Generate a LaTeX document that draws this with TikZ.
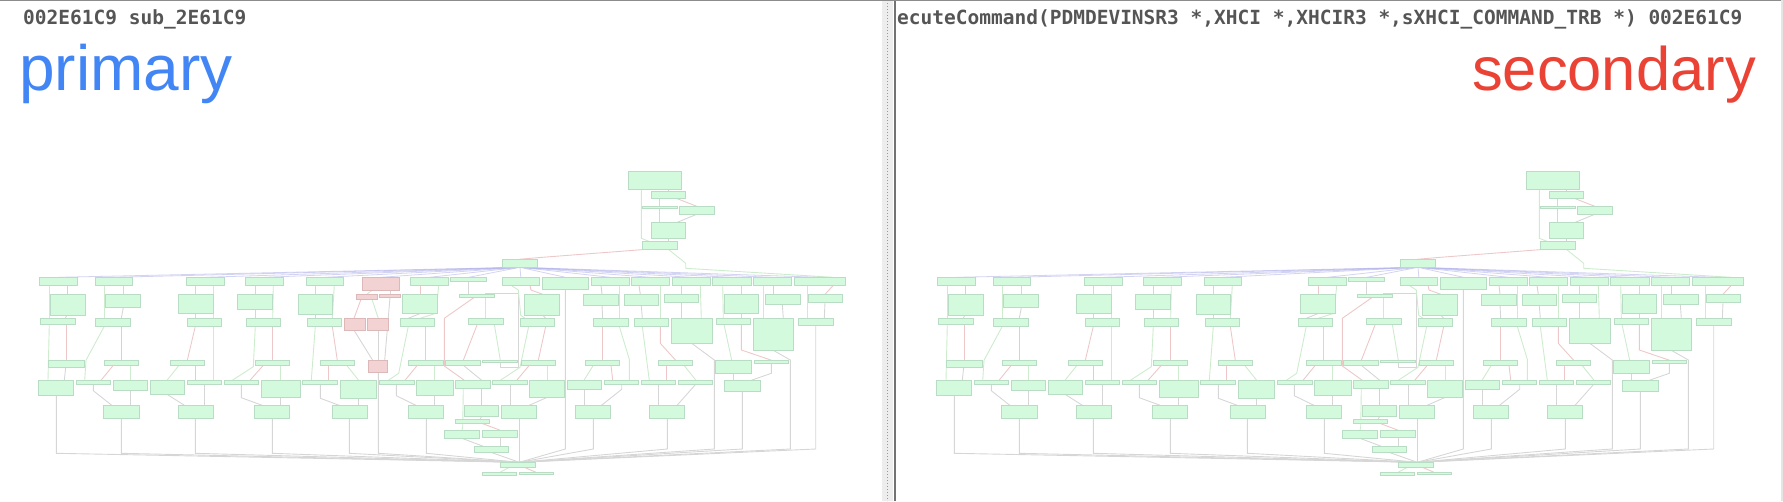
\documentclass[tikz,border=0pt]{standalone}
\usepackage{fontspec}
\newfontfamily\monof{DejaVu Sans Mono}
\newfontfamily\labf{Liberation Sans}
\definecolor{boxfill}{RGB}{212,250,222}
\definecolor{boxline}{RGB}{184,220,196}
\definecolor{redfill}{RGB}{242,210,210}
\definecolor{redline}{RGB}{220,184,184}
\definecolor{gedgec}{RGB}{205,236,205}
\definecolor{redgec}{RGB}{238,200,200}
\definecolor{kedgec}{RGB}{214,214,214}
\definecolor{bedgec}{RGB}{175,175,232}
\definecolor{gblue}{RGB}{66,133,244}
\definecolor{gred}{RGB}{234,67,53}
\definecolor{hdr}{RGB}{85,85,85}
\pgfdeclarelayer{bg}
\pgfsetlayers{bg,main}
\newif\ifprim
\newcommand\pfx{L}
\newcommand\bx[6][gbox]{\pgfmathsetmacro\bw{#5-#3}\pgfmathsetmacro\bh{#6-#4}\node[#1,minimum width=\bw pt,minimum height=\bh pt,anchor=north west] (\pfx#2) at (#3,#4) {};}
\newcommand\E[5][kedge]{\draw[#1] (\pfx#2.south -| #3,0) -- (\pfx#4.north -| #5,0);}
\newcommand\EP[6][kedge]{\draw[#1] (\pfx#2.south -| #3,0) -- #4 -- (\pfx#5.north -| #6,0);}
\tikzset{
  gbox/.style={draw=boxline, fill=boxfill, line width=0.9pt, inner sep=0pt, outer sep=0pt},
  rbox/.style={draw=redline, fill=redfill, line width=0.9pt, inner sep=0pt, outer sep=0pt},
  kedge/.style={draw=kedgec, line width=0.9pt},
  gedge/.style={draw=gedgec, line width=0.9pt},
  redge/.style={draw=redgec, line width=0.9pt},
  bedge/.style={draw=bedgec, line width=0.8pt, opacity=0.55},
}
\newcommand\drawgraph{%
% top
\bx{T1}{628.3}{171.7}{681.7}{189.3}
\bx{T2}{651.3}{191.3}{685.7}{198.7}
\bx{T3}{642}{206.3}{677.3}{208.7}
\bx{T4}{679.3}{206.3}{714.3}{214.3}
\bx{T5}{651.3}{222.3}{685.7}{238.3}
\bx{T6}{642.3}{241.7}{677.3}{249.3}
\bx{D}{502.3}{259.3}{537.7}{267.3}
% row A
\bx{A1}{39.3}{277.3}{77.7}{285.3}
\bx{A2}{95.3}{277.3}{132.7}{285.3}
\bx{A3}{186.3}{277.3}{224.7}{285.3}
\bx{A4}{245.3}{277.3}{283.7}{285.3}
\bx{A5}{306.3}{277.3}{343.7}{285.3}
\bx{A7}{410.3}{277.3}{448.7}{285.3}
\bx{A8}{450.7}{277.3}{486.7}{281.3}
\bx{A9}{502.3}{277.3}{539.3}{285.3}
\bx{A10}{542.3}{277.3}{588.7}{289.7}
\bx{A11}{591.3}{277.3}{629.3}{285.3}
\bx{A12}{631.3}{277.3}{669.3}{285.3}
\bx{A13}{672.3}{277.3}{710.3}{285.3}
\bx{A14}{712.7}{277.3}{751.3}{285.3}
\bx{A15}{753.3}{277.3}{791.3}{285.3}
\bx{A16}{794.3}{277.3}{845.7}{285.3}
% row B
\bx{B1}{50.3}{294.3}{85.3}{315.3}
\bx{B2}{105.3}{294.3}{140.3}{307.7}
\bx{B3}{178.3}{294.3}{213.3}{313.3}
\bx{B4}{237.3}{294.3}{272.7}{309.3}
\bx{B5}{298.3}{294.3}{332.3}{314.3}
\bx{B8}{402.3}{294.3}{437.7}{313.3}
\bx{B9}{459.3}{294.3}{494.3}{297.3}
\bx{B10}{524.3}{294.3}{559.7}{315.3}
\bx{B11}{583.3}{294.3}{618.3}{305.3}
\bx{B12}{624.3}{294.3}{658.7}{305.3}
\bx{B13}{664.3}{294.3}{698.7}{302.3}
\bx{B14}{724.3}{294.3}{758.7}{313.3}
\bx{B15}{765.3}{294.3}{800.3}{304.3}
\bx{B16}{808.3}{294.3}{842.7}{302.3}
% row C
\bx{C1}{40.3}{318.3}{75.3}{324.3}
\bx{C2}{95.7}{318.3}{130.3}{326.3}
\bx{C3}{187.3}{318.3}{221.3}{326.3}
\bx{C4}{246.3}{318.3}{280.7}{326.3}
\bx{C5}{307.3}{318.3}{341.7}{326.3}
\bx{C8}{400.3}{318.3}{434.7}{326.3}
\bx{C9}{468.3}{318.3}{503.3}{324.3}
\bx{C10}{520.3}{318.3}{554.7}{326.3}
\bx{C11}{593.3}{318.3}{628.3}{326.3}
\bx{C12}{634.3}{318.3}{668.7}{326.3}
\bx{C13}{671.3}{318.3}{712.7}{343.3}
\bx{C14}{716.3}{318.3}{750.7}{324.3}
\bx{C15}{753.3}{318.3}{793.3}{350.3}
\bx{C16}{798.3}{318.3}{833.3}{325.7}
% row D
\bx{D1}{48.3}{360.3}{84.7}{367.3}
\bx{D2}{104.3}{360.3}{138.3}{365.3}
\bx{D3}{170.3}{360.3}{204.3}{365.3}
\bx{D4}{255.3}{360.3}{289.3}{365.3}
\bx{D5}{320.3}{360.3}{354.3}{365.3}
\bx{D7}{408.3}{360.3}{443.3}{365.3}
\bx{D8}{445.7}{360.3}{480.3}{365.3}
\bx{D9}{482.3}{360.3}{517.3}{362.7}
\bx{D10}{521.3}{360.3}{555.3}{365.3}
\bx{D11}{585.3}{360.3}{619.7}{365.3}
\bx{D12}{658.3}{360.3}{692.7}{365.3}
\bx{D13}{715.3}{360.3}{751.3}{373.3}
\bx{D14}{754.3}{360.3}{788.7}{363.3}
% row E
\bx{E1}{38.3}{380.3}{73.3}{395.7}
\bx{E2}{76.3}{380.3}{110.3}{384.3}
\bx{E3}{113.3}{380.3}{147.3}{390.7}
\bx{E4}{150.3}{380.3}{184.7}{394.3}
\bx{E5}{187.3}{380.3}{221.3}{384.3}
\bx{E6}{224.3}{380.3}{258.3}{384.3}
\bx{E7}{261.3}{380.3}{300.3}{397.3}
\bx{E8}{302.3}{380.3}{337.3}{384.3}
\bx{E9}{340.3}{380.3}{376.7}{398.3}
\bx{E10}{379.3}{380.3}{414.3}{384.3}
\bx{E11}{416.3}{380.3}{453.3}{395.3}
\bx{E12}{455.3}{380.3}{490.3}{388.3}
\bx{E13}{492.3}{380.3}{527.3}{384.3}
\bx{E14}{529.3}{380.3}{564.3}{397.3}
\bx{E15}{567.3}{380.3}{601.3}{389.3}
\bx{E16}{604.3}{380.3}{638.3}{384.3}
\bx{E17}{641.3}{380.3}{675.3}{384.3}
\bx{E18}{678.3}{380.3}{712.3}{384.3}
\bx{E19}{724.3}{380.3}{760.3}{391.3}
% row F
\bx{F1}{103.3}{405.7}{139.3}{418.3}
\bx{F2}{178.3}{405.7}{213.3}{418.3}
\bx{F3}{254.3}{405.7}{289.3}{418.3}
\bx{F4}{332.3}{405.7}{367.3}{418.3}
\bx{F5}{408.3}{405.7}{443.3}{418.3}
\bx{F6}{464.3}{405.7}{498.3}{416.3}
\bx{F7}{501.3}{405.7}{536.3}{418.3}
\bx{F8}{575.3}{405.7}{610.3}{418.3}
\bx{F9}{649.3}{405.7}{684.3}{418.3}
% lower
\bx{G1}{455.3}{419.3}{489.3}{423.3}
\bx{G2}{444.3}{430.3}{479.3}{438.3}
\bx{G3}{482.3}{430.3}{517.3}{437.3}
\bx{G4}{474.3}{446.3}{508.3}{452.3}
\bx{X1}{500.3}{462.3}{535.3}{467.3}
\bx{X2}{482.3}{472.3}{516.7}{475}
\bx{X3}{519.3}{472.3}{553.7}{474.3}
\ifprim
\bx[rbox]{A6}{362.3}{277.3}{399.7}{290.3}
\bx[rbox]{B6}{356.3}{294.3}{377.7}{299.3}
\bx[rbox]{B7}{379.3}{294.3}{400.3}{297.3}
\bx[rbox]{C6}{344.3}{318.3}{365.7}{330.7}
\bx[rbox]{C7}{367.3}{318.3}{388.7}{330.7}
\bx[rbox]{D6}{368.3}{360.3}{387.7}{372.3}
\fi
\begin{pgfonlayer}{bg}
% top
\E{T1}{668.3}{T2}{668.3}
\EP[gedge]{T1}{641.3}{(641.3,238.3)}{T6}{650}
\E{T2}{659.3}{T3}{659.3}
\E[redge]{T2}{677.3}{T4}{696.7}
\E{T3}{659.3}{T5}{659.3}
\E{T4}{696.7}{T5}{677.3}
\E{T5}{668.3}{T6}{668.3}
\EP[redge]{T6}{646.7}{(540,257.5)}{D}{519}
\EP[gedge]{T6}{668.3}{(685.7,263.3) -- (685.7,268.3)}{A16}{833.3}
\foreach \a in {A1,A2,A3,A4,A5,A7,A8,A9,A10,A11,A12,A13,A14,A15,A16}{\draw[bedge] (\pfx D.south) -- (\pfx\a.north);}
% col 1
\E[redge]{A1}{67.3}{B1}{67.3}
\E[gedge]{A1}{49.3}{C1}{49.3}
\E{B1}{66.7}{C1}{65.3}
\E[redge]{C1}{66.3}{D1}{66.3}
\E[gedge]{C1}{49.3}{E1}{48}
\E{D1}{65.7}{E1}{64.3}
% col 2
\E[gedge]{A2}{104.7}{C2}{104.7}
\E{A2}{123.3}{B2}{123.3}
\E{B2}{123.3}{C2}{121.3}
\EP[gedge]{C2}{104.3}{(86,360.3)}{E2}{84.7}
\E[redge]{C2}{121.3}{D2}{121.3}
\E[redge]{D2}{113.3}{E2}{101}
\E[gedge]{D2}{130.3}{E3}{130.3}
\EP{E2}{93.3}{(93.3,390.7)}{F1}{112.3}
\E{E3}{130.3}{F1}{130.3}
% col 3
\E{A3}{195.3}{B3}{195.3}
\E[gedge]{A3}{213.7}{C3}{213.7}
\E{B3}{195.3}{C3}{195.3}
\E[redge]{C3}{195.3}{D3}{187.3}
\E[gedge]{C3}{213.7}{E5}{213.7}
\E[gedge]{D3}{179}{E4}{167}
\E[redge]{D3}{195.3}{E5}{195.3}
\E{E4}{167}{F2}{185}
\E{E5}{204.3}{F2}{204.3}
% col 4
\E{A4}{255.3}{B4}{255.3}
\E[gedge]{A4}{273.3}{C4}{272.7}
\E{B4}{255.3}{C4}{255.3}
\EP[gedge]{C4}{255.3}{(253.3,366.7)}{E6}{232.3}
\E[redge]{C4}{272.7}{D4}{272.7}
\E[redge]{D4}{263.3}{E6}{250}
\E[gedge]{D4}{280.7}{E7}{280.7}
\EP{E6}{241.3}{(241.3,397.7)}{F3}{263.3}
\E{E7}{280.7}{F3}{280.7}
% col 5
\E{A5}{315.3}{B5}{315.3}
\E[gedge]{A5}{334.3}{C5}{332.3}
\E{B5}{315.3}{C5}{315.3}
\E[gedge]{C5}{315.3}{E8}{311.3}
\E[redge]{C5}{332.3}{D5}{337.3}
\E[redge]{D5}{328.7}{E8}{328.7}
\E[gedge]{D5}{346.7}{E9}{358.7}
\EP{E8}{320.3}{(320.3,398.3)}{F4}{340.3}
\E{E9}{358.3}{F4}{358.3}
% col 7
\E[redge]{A7}{420.3}{B8}{420.3}
\EP[gedge]{A7}{438.7}{(436,313.3)}{C8}{420}
\E{B8}{420.7}{C8}{408.3}
\EP[gedge]{C8}{408.3}{(398.7,373.3)}{E10}{388.3}
\E{C8}{425.7}{D7}{425.7}
\E[redge]{D7}{417.3}{E10}{405}
\E[gedge]{D7}{434.7}{E11}{434.7}
\EP{E10}{396.3}{(396.3,395.7)}{F5}{416.7}
\E{E11}{434.7}{F5}{434.7}
% col 8
\E{A8}{468.3}{B9}{468.3}
\E[gedge]{B9}{485.3}{C9}{485.3}
\draw[kedge] (\pfx D9.south -| 500.3,0) -- (500.3,367.3) -- (518.3,367.3) -- (518.3,293.3) -- (485.3,293.3) -- (\pfx B9.north -| 485.3,0);
\EP[redge]{B9}{474.3}{(444.3,318.3) -- (444.3,366)}{E12}{464.3}
\E[redge]{C9}{477.3}{D8}{463.3}
\E[gedge]{C9}{494.3}{D9}{500.3}
\E{D8}{463.3}{E12}{481.7}
\E[redge]{E12}{481.7}{F6}{481.7}
\EP[gedge]{E12}{463.3}{(462.7,426.7)}{G2}{462}
\E{F6}{481.7}{G1}{480}
\E[redge]{G1}{481.7}{G3}{500.3}
\E{G2}{462}{G4}{483.3}
\E{G3}{500.3}{G4}{500.3}
\E{G4}{491}{X1}{519.3}
% col 9
\EP[redge]{A9}{530}{(531,290)}{B10}{542.7}
\EP[gedge]{A9}{511}{(518.3,290) -- (520.7,315.3)}{C10}{525}
\E{B10}{543}{C10}{545.7}
\E[redge]{C10}{545.7}{D10}{538.3}
\EP[gedge]{C10}{528.7}{(520,367.3)}{E13}{500.3}
\E[redge]{D10}{529.3}{E13}{516.7}
\E[gedge]{D10}{547.3}{E14}{547.3}
\E{E13}{510.3}{F7}{510.3}
\E{E14}{547.3}{F7}{528.3}
\E{F7}{519.3}{X1}{519.3}
% col 11
\E[redge]{A11}{601}{B11}{602}
\E[gedge]{A11}{619.3}{C11}{619.3}
\E{B11}{602}{C11}{602.7}
\E[redge]{C11}{602.3}{D11}{602.3}
\EP[gedge]{C11}{619.3}{(629.3,359.3)}{E16}{629.3}
\E[gedge]{D11}{593.3}{E15}{584}
\E[redge]{D11}{611}{E16}{612.7}
\E{E15}{584.3}{F8}{584.3}
\EP{E16}{621.7}{(621.7,389.3)}{F8}{601}
% col 12
\E[redge]{A12}{639}{B12}{640.3}
\E[gedge]{A12}{660}{C12}{660}
\E{B12}{641.3}{C12}{642.3}
\E[gedge]{C12}{642.3}{E17}{649.3}
\EP[redge]{C12}{660.3}{(660.3,343.3)}{D12}{675.7}
\E[redge]{D12}{666.3}{E17}{666.3}
\E[gedge]{D12}{684}{E18}{696}
\E{E17}{658.7}{F9}{658.7}
\E{E18}{695.7}{F9}{676.7}
% col 13
\E{A13}{681.3}{B13}{681.3}
\E[gedge]{A13}{700.3}{C13}{701.3}
\E{B13}{681.3}{C13}{681.3}
% col 14
\E{A14}{741.3}{B14}{741.3}
\E[gedge]{A14}{722.7}{C14}{723.3}
\E{B14}{741.3}{C14}{741.3}
\E[gedge]{C14}{724}{D13}{731.7}
\EP[redge]{C14}{741.3}{(741.3,350)}{D14}{771.7}
\E{D13}{733.3}{E19}{733.3}
\EP{D14}{771.3}{(771.3,373.3)}{E19}{751.3}
% col 15, 16
\E[redge]{A15}{773.3}{B15}{773.3}
\E[gedge]{A15}{763.3}{C15}{763.3}
\E{B15}{782.3}{C15}{783.3}
\E[redge]{A16}{833.3}{B16}{825}
\E[gedge]{A16}{807.7}{C16}{807.7}
\E{B16}{825}{C16}{824.3}
% exit
\E[gedge]{X1}{509.3}{X2}{500}
\E[redge]{X1}{524.3}{X3}{536}
% bus
\foreach \n/\x in {E1/56.3,F1/121.3,F2/195.3,F3/272.3,F4/349.3,F5/426.3}{\draw[kedge] (\pfx\n.south -| \x,0) -- (\x,453.3) -- (\pfx X1.north -| 519.3,0);}
\foreach \n/\x in {A10/565.3,F8/593.3,F9/667.3,E19/742.3,C16/815.7}{\draw[kedge] (\pfx\n.south -| \x,0) -- (\x,449) -- (\pfx X1.north -| 519.3,0);}
\draw[kedge] (\pfx C13.south -| 691.7,0) -- (714.3,360) -- (714.3,449) -- (\pfx X1.north -| 519.3,0);
\draw[kedge] (\pfx C15.south -| 773.3,0) -- (790.3,360) -- (790.3,449) -- (\pfx X1.north -| 519.3,0);
\ifprim
\draw[bedge] (\pfx D.south) -- (\pfx A6.north);
\E[gedge]{A6}{372}{B6}{366.7}
\E{A6}{390}{B7}{390}
\E[redge]{B6}{361}{C6}{354}
\E[gedge]{B6}{372}{C7}{378.3}
\E{B7}{390}{D6}{384.7}
\E{C6}{354.3}{D6}{372.7}
\E{C7}{378.3}{D6}{378.3}
\draw[kedge] (\pfx D6.south -| 378.3,0) -- (378.3,453.3) -- (\pfx X1.north -| 519.3,0);
\fi
\end{pgfonlayer}
}
\begin{document}
\begin{tikzpicture}[x=1pt,y=-1pt]
\useasboundingbox (0,0) rectangle (1783,501);
% frame and divider
\fill[black!7] (882,0) rectangle (893,501);
\draw[blue!45, dotted, line width=1pt] (887.5,0) -- (887.5,501);
\draw[black!55, line width=1.3pt] (895,0) -- (895,501);
\draw[black!45, line width=1pt] (0,0.5) -- (1783,0.5);
\fill[black!10] (1780.5,0) rectangle (1783,501);
% headers
\node[anchor=base west, inner sep=0pt, font=\monof\bfseries\fontsize{19.5}{20}\selectfont, text=hdr] (h1) at (23,24) {002E61C9 sub\_2E61C9};
\node[anchor=base west, inner sep=0pt, font=\monof\bfseries\fontsize{19.5}{20}\selectfont, text=hdr] (h2) at (897,24) {ecuteCommand(PDMDEVINSR3 *,XHCI *,XHCIR3 *,sXHCI\_COMMAND\_TRB *) 002E61C9};
\node[anchor=base west, inner sep=0pt, font=\labf\fontsize{64}{64}\selectfont, text=gblue] (lp) at (19,90) {primary};
\node[anchor=base east, inner sep=0pt, font=\labf\fontsize{61.5}{62}\selectfont, text=gred] (ls) at (1756,90) {secondary};
% graphs
\primtrue\renewcommand\pfx{L}\drawgraph
\begin{scope}[xshift=898pt]
\primfalse\renewcommand\pfx{R}\drawgraph
\end{scope}
\end{tikzpicture}
\end{document}
